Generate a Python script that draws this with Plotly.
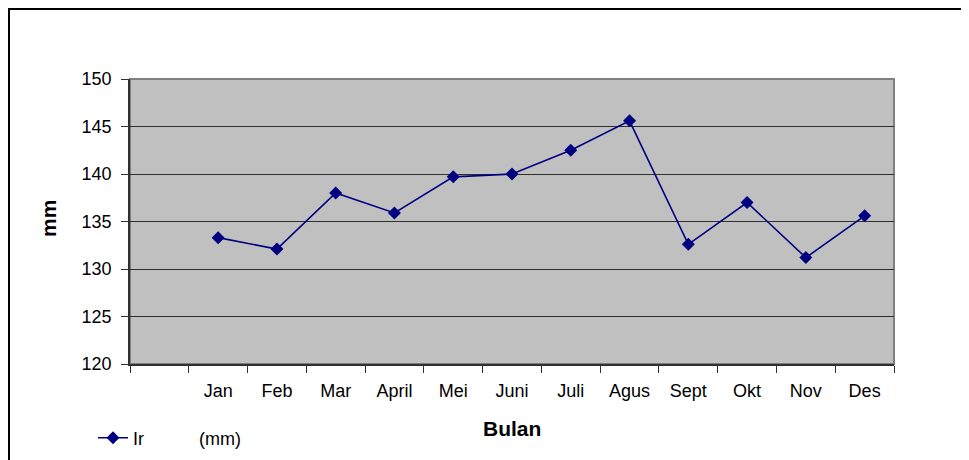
import plotly.graph_objects as go

months = ["Jan", "Feb", "Mar", "April", "Mei", "Juni", "Juli", "Agus", "Sept", "Okt", "Nov", "Des"]
ir_mm = [133.3, 132.1, 138.0, 135.9, 139.7, 140.0, 142.5, 145.6, 132.6, 137.0, 131.2, 135.6]
y_ticks = [120, 125, 130, 135, 140, 145, 150]

x_pos = [i + 1 for i in range(len(months))]
FONT = "Liberation Sans, Arial, sans-serif"
NAVY = "#000080"

# page has an 8px body margin; plot area is at page x 130..894, y 79..364
PL, PR, PT, PB = 130, 894, 79, 364
PW, PH = PR - PL, PB - PT


def px(x):
    return (x - PL) / PW


def py(y):
    return (PB - y) / PH


fig = go.Figure()
fig.add_trace(go.Scatter(
    x=x_pos, y=ir_mm, mode="lines+markers",
    name="Ir" + "\u00a0" * 11 + "(mm)",
    line=dict(color=NAVY, width=1.6),
    marker=dict(symbol="diamond", size=10, color=NAVY),
))

fig.update_layout(
    width=961, height=452,
    margin=dict(l=PL - 8, r=969 - PR, t=PT - 8, b=460 - PB, autoexpand=False),
    paper_bgcolor="white",
    plot_bgcolor="#C0C0C0",
    font=dict(family=FONT, size=18, color="black"),
    showlegend=True,
    legend=dict(
        orientation="h", x=px(93), xanchor="left", y=py(438), yanchor="middle",
        bgcolor="rgba(0,0,0,0)", font=dict(size=18),
    ),
    xaxis=dict(
        range=[-0.5, 12.5], tickmode="array", tickvals=x_pos, ticktext=months,
        ticks="", showgrid=False, zeroline=False,
        showline=True, linecolor="#303030", linewidth=1.5,
        minor=dict(tick0=-0.5, dtick=1, ticks="outside", ticklen=7, tickcolor="#303030", tickwidth=1.2),
        ticklabelstandoff=10,
        tickfont=dict(size=18),
    ),
    yaxis=dict(
        range=[120, 150], tickmode="array", tickvals=y_ticks,
        ticks="outside", ticklen=7, tickcolor="#303030", tickwidth=1.2,
        showgrid=True, gridcolor="#303030", gridwidth=1.2,
        zeroline=False, showline=True, linecolor="#303030", linewidth=1.5,
        ticklabelstandoff=6,
        tickfont=dict(size=18),
    ),
    shapes=[
        dict(type="rect", xref="paper", yref="paper", x0=0, x1=1, y0=0, y1=1,
             line=dict(color="#808080", width=2), layer="below"),
        dict(type="rect", xref="paper", yref="paper",
             x0=px(9), x1=px(1000), y0=py(500), y1=py(9),
             line=dict(color="black", width=2), fillcolor="rgba(0,0,0,0)", layer="below"),
    ],
    annotations=[
        dict(text="<b>Bulan</b>", xref="paper", yref="paper",
             x=px(512), y=py(428), xanchor="center", yanchor="middle",
             showarrow=False, font=dict(size=21, family=FONT)),
        dict(text="<b>mm</b>", xref="paper", yref="paper",
             x=px(48), y=py(219), xanchor="center", yanchor="middle",
             textangle=-90, showarrow=False, font=dict(size=21, family=FONT)),
    ],
)

fig.write_html("out.html")
